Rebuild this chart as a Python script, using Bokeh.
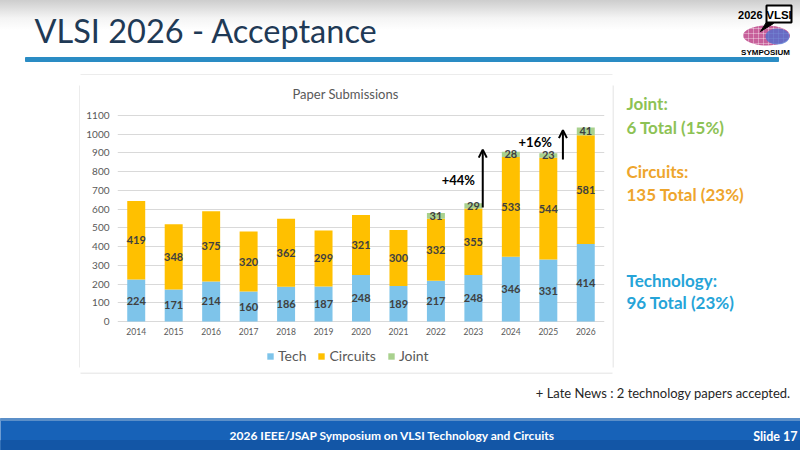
from bokeh.plotting import figure
from bokeh.models import (Range1d, FixedTicker, Label, LabelSet, ColumnDataSource, Legend,
                          LegendItem, Arrow, OpenHead)
from bokeh.layouts import column, row
from bokeh.core.properties import value
from bokeh.embed import file_html
from bokeh.resources import INLINE

# ---------------- data ----------------
years = [2014, 2015, 2016, 2017, 2018, 2019, 2020, 2021, 2022, 2023, 2024, 2025, 2026]
tech = [224, 171, 214, 160, 186, 187, 248, 189, 217, 248, 346, 331, 414]
circuits = [419, 348, 375, 320, 362, 299, 321, 300, 332, 355, 533, 544, 581]
joint = [0, 0, 0, 0, 0, 0, 0, 0, 31, 29, 28, 23, 41]
series_names = ["Tech", "Circuits", "Joint"]
series_colors = ["#7ec4ea", "#ffc000", "#a9d18e"]
y_ticks = [0, 100, 200, 300, 400, 500, 600, 700, 800, 900, 1000, 1100]

growth_x = [2023.25, 2025.39]
growth_y0 = [609, 865]
growth_y1 = [918, 1022]
growth_text = ["+44%", "+16%"]
growth_label_x = [2022.6, 2024.65]
growth_label_y = [758, 956]

side_text = ["Joint:", "6 Total (15%)", "Circuits:", "135 Total (23%)", "Technology:", "96 Total (23%)"]
side_colors = ["#8dc255", "#8dc255", "#eea52c", "#eea52c", "#26a4d8", "#26a4d8"]

FONT = "Lato"
BOX = "#d9d9d9"

# geometry of the middle band (chart panel is 532 x 297 px)
H = 297
FR_TOP, FR_BOTTOM = 10, 292          # plot frame (pixels from panel top)
ZERO_PX, TOP_PX = 246, 40            # where 0 and 1100 lie
px_per_unit = (ZERO_PX - TOP_PX) / 1100.0


def blank(w, h, top_b=0, bot_b=0, y0=None, y1=None, **kw):
    f = figure(width=w, height=h, x_range=Range1d(0, w),
               y_range=Range1d(h if y0 is None else y0, 0 if y1 is None else y1),
               output_backend="svg", toolbar_location=None, tools="", min_border=0,
               min_border_top=top_b, min_border_bottom=bot_b,
               outline_line_color=None, **kw)
    f.axis.visible = False
    f.grid.visible = False
    return f


# ---------------- top band ----------------
top = blank(800, 75, background_fill_color=None, border_fill_color=None,
            styles={"background": "linear-gradient(to bottom, #cdcdcd 0px, #f4f4f4 18px, #ffffff 30px)"})
top.add_layout(Label(x=34, y=30, text="VLSI  2026 - Acceptance", text_font=FONT,
                     text_font_size="32.5px", text_color="#1f3a56", text_baseline="middle"))
top.quad(left=[25], right=[778], top=[57], bottom=[61], color="#2a8cc4")
top.segment(x0=[80], y0=[74.5], x1=[612], y1=[74.5], line_color=BOX, line_width=1)
# logo
top.ellipse(x=[766], y=[35], width=[47], height=[20], fill_color="#c7609a", line_color=None,
            hatch_pattern="+", hatch_color="white", hatch_alpha=0.35, hatch_scale=5)
top.ellipse(x=[777], y=[36], width=[24], height=[16], fill_color="#4a6fd0", fill_alpha=0.75,
            line_color=None)
top.patch(x=[767, 773, 760], y=[20, 23, 31], color="black")
top.quad(left=[766], right=[791], top=[5], bottom=[22], fill_color="white", line_color="black",
         line_width=2)
top.add_layout(Label(x=778.5, y=14, text="VLSI", text_font="Liberation Sans", text_font_style="bold",
                     text_font_size="11.5px", text_align="center", text_baseline="middle", text_color="black"))
top.add_layout(Label(x=762, y=14, text="2026", text_font="Liberation Sans", text_font_style="bold",
                     text_font_size="11px", text_align="right", text_baseline="middle", text_color="black"))
top.add_layout(Label(x=765, y=52, text="SYMPOSIUM", text_font="Liberation Sans", text_font_style="bold",
                     text_font_size="8px", text_align="center", text_baseline="middle", text_color="black"))

# ---------------- chart ----------------
src = ColumnDataSource(dict(
    year=years, tech=tech, circuits=circuits, joint=joint,
    tech_mid=[t / 2 for t in tech],
    circ_mid=[t + c / 2 for t, c in zip(tech, circuits)],
    tech_txt=[str(v) for v in tech],
    circ_txt=[str(v) for v in circuits],
))
jsrc = ColumnDataSource(dict(
    year=[y for y, j in zip(years, joint) if j > 0],
    joint_mid=[t + c + j / 2 for t, c, j in zip(tech, circuits, joint) if j > 0],
    joint_txt=[str(j) for j in joint if j > 0],
))

y_start = -(FR_BOTTOM - ZERO_PX) / px_per_unit
y_end = 1100 + (TOP_PX - FR_TOP) / px_per_unit
p = figure(width=532, height=H, x_range=Range1d(2013.5, 2026.5), y_range=Range1d(y_start, y_end),
           output_backend="svg", toolbar_location=None, tools="",
           min_border_left=37, min_border_right=8, min_border_top=FR_TOP,
           min_border_bottom=H - FR_BOTTOM, outline_line_color=None)

renderers = p.vbar_stack(["tech", "circuits", "joint"], x="year", width=0.48,
                         color=series_colors, line_color=None, source=src)

p.xgrid.visible = False
p.ygrid.grid_line_color = "#d9d9d9"
p.ygrid.ticker = FixedTicker(ticks=y_ticks)
p.yaxis.ticker = FixedTicker(ticks=y_ticks)
p.xaxis.ticker = FixedTicker(ticks=years)
p.xaxis.fixed_location = 0
for ax in (p.xaxis[0], p.yaxis[0]):
    ax.axis_line_color = None
    ax.major_tick_line_color = None
    ax.major_tick_out = 0
    ax.major_tick_in = 0
    ax.minor_tick_line_color = None
    ax.major_label_text_color = "#595959"
    ax.major_label_text_font = FONT
p.yaxis.major_label_text_font_size = "10px"
p.yaxis.major_label_standoff = 8
p.xaxis.major_label_text_font_size = "8.5px"
p.xaxis.major_label_standoff = 6

p.add_layout(Label(x=228, y=FR_BOTTOM - 18, x_units="screen", y_units="screen",
                   text="Paper Submissions", text_font=FONT, text_font_size="13px",
                   text_color="#595959", text_align="center", text_baseline="middle"))

lbl_kw = dict(text_align="center", text_baseline="middle", text_font_size="11px",
              text_font_style="bold", text_color="#404040", text_font=value(FONT))
p.add_layout(LabelSet(x="year", y="tech_mid", text="tech_txt", source=src, **lbl_kw))
p.add_layout(LabelSet(x="year", y="circ_mid", text="circ_txt", source=src, **lbl_kw))
p.add_layout(LabelSet(x="year", y="joint_mid", text="joint_txt", source=jsrc, **lbl_kw))

gsrc = ColumnDataSource(dict(x=growth_x, y0=growth_y0, y1=growth_y1,
                             lx=growth_label_x, ly=growth_label_y, t=growth_text))
p.add_layout(Arrow(source=gsrc, x_start="x", y_start="y0", x_end="x", y_end="y1",
                   line_width=2, line_color="black",
                   end=OpenHead(size=8, line_width=2, line_color="black")))
p.add_layout(LabelSet(x="lx", y="ly", text="t", source=gsrc, text_align="center",
                      text_baseline="middle", text_font_size="13px", text_font_style="bold",
                      text_color="black", text_font=value(FONT)))

legend = Legend(items=[LegendItem(label=n, renderers=[r]) for n, r in zip(series_names, renderers)],
                orientation="horizontal", location=(149, 3), border_line_color=None,
                background_fill_alpha=0, glyph_width=8, glyph_height=8, label_standoff=4,
                spacing=11, padding=0, margin=0, label_text_font=FONT,
                label_text_font_size="14px", label_text_color="#595959")
p.add_layout(legend)

# ---------------- left margin & right text ----------------
left = blank(80, H, top_b=FR_TOP, bot_b=H - FR_BOTTOM, y0=FR_BOTTOM, y1=FR_TOP)
left.segment(x0=[79.5], y0=[0], x1=[79.5], y1=[H], line_color=BOX, line_width=1)

side = blank(188, H, top_b=FR_TOP, bot_b=H - FR_BOTTOM, y0=FR_BOTTOM, y1=FR_TOP)
side.segment(x0=[0.5], y0=[0], x1=[0.5], y1=[H], line_color=BOX, line_width=1)
side_y = [28, 52, 96, 119, 205, 227]
for t, c, yy in zip(side_text, side_colors, side_y):
    side.add_layout(Label(x=14, y=yy, text=t, text_font=FONT, text_font_style="bold",
                          text_font_size="17px", text_color=c, text_baseline="middle"))

# ---------------- bottom ----------------
bot = blank(800, 78)
bot.segment(x0=[80], y0=[0.5], x1=[612], y1=[0.5], line_color=BOX, line_width=1)
bot.add_layout(Label(x=790, y=20, text="+ Late News : 2 technology papers accepted.",
                     text_font=FONT, text_font_size="13px", text_color="#262626",
                     text_align="right", text_baseline="middle"))
bot.quad(left=[0], right=[800], top=[46], bottom=[78], color="#1762b8")
bot.quad(left=[0], right=[800], top=[46], bottom=[48], color="#5b8fc8")
bot.quad(left=[0], right=[800], top=[68], bottom=[78], color="#1356a6")
bot.add_layout(Label(x=392, y=63, text="2026 IEEE/JSAP Symposium on VLSI Technology and Circuits",
                     text_font=FONT, text_font_size="12px", text_font_style="bold",
                     text_color="white", text_align="center", text_baseline="middle"))
bot.add_layout(Label(x=797, y=64, text="Slide 17", text_font=FONT, text_font_size="12.5px",
                     text_font_style="bold", text_color="white", text_baseline="middle",
                     text_align="right"))

layout = column(top, row(left, p, side), bot, spacing=0)

open("out.html", "w").write(file_html(layout, INLINE))
